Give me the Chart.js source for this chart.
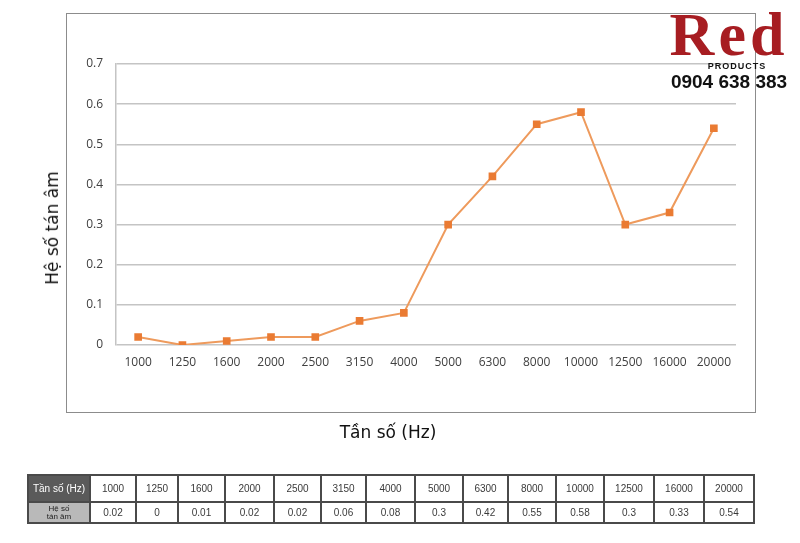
<!DOCTYPE html>
<html>
<head>
<meta charset="utf-8">
<script src="https://cdn.jsdelivr.net/npm/chart.js@4/dist/chart.umd.min.js"></script>
<style>
  html, body { margin:0; padding:0; background:#fff; }
  #wrap { position:relative; width:800px; height:543px; overflow:hidden; font-family:"Liberation Sans", Arial, sans-serif; }
  #box { position:absolute; left:66px; top:13px; width:688px; height:398px; border:1px solid #8c8c8c; }
  #cv { position:absolute; left:0; top:0; }
  .ytitle { position:absolute; left:52px; top:228px; transform:translate(-50%,-50%) rotate(-90deg); font-family:"DejaVu Sans", sans-serif; font-size:17px; color:#111; white-space:nowrap; }
  .xtitle { position:absolute; left:388px; top:432px; transform:translate(-50%,-50%); font-family:"DejaVu Sans", sans-serif; font-size:17px; color:#111; white-space:nowrap; }
  #logo { position:absolute; left:664px; top:0; width:130px; height:95px; text-align:center; }
  #logo .red { position:absolute; left:0; top:3px; width:130px; line-height:62px; font-family:"Liberation Serif", serif; font-weight:bold; font-size:62px; color:#a71d22; letter-spacing:4px; }
  #logo .prod { position:absolute; left:0; top:61px; width:130px; font-weight:bold; font-size:9px; color:#111; letter-spacing:1px; padding-left:16px; box-sizing:border-box; }
  #logo .phone { position:absolute; left:0; top:71px; width:130px; font-weight:bold; font-size:19px; color:#111; }
  table { position:absolute; left:27px; top:474px; border-collapse:collapse; table-layout:fixed; }
  td { border:2px solid #4a4a4a; text-align:center; font-size:10px; color:#3a3a3a; padding:0; }
  tr.r1 td { height:25px; }
  tr.r2 td { height:19px; }
  td.h1 { background:#5a5a5a; color:#fff; font-size:10px; }
  td.h2 { background:#b9b9b9; color:#222; font-size:8px; line-height:8px; }
</style>
</head>
<body>
<div id="wrap">
  <div id="box"></div>
  <canvas id="cv" width="800" height="543"></canvas>
  <div class="ytitle">Hệ số tán âm</div>
  <div class="xtitle">Tần số (Hz)</div>
  <div id="logo">
    <div class="red">Red</div>
    <div class="prod">PRODUCTS</div>
    <div class="phone">0904 638 383</div>
  </div>
  <table id="tbl"></table>
</div>
<script>
const frequencies = ['1000','1250','1600','2000','2500','3150','4000','5000','6300','8000','10000','12500','16000','20000'];
const coefficients = [0.02, 0, 0.01, 0.02, 0.02, 0.06, 0.08, 0.3, 0.42, 0.55, 0.58, 0.3, 0.33, 0.54];
const rowLabels = ['Tần số (Hz)', 'Hệ số<br>tán âm'];
const colWidths = [62,46,42,47,49,47,45,49,48,45,48,48,50,50,50];

// table under the chart
const tbl = document.getElementById('tbl');
let cols = '<colgroup>' + colWidths.map(w=>`<col style="width:${w}px">`).join('') + '</colgroup>';
let r1 = `<tr class="r1"><td class="h1">${rowLabels[0]}</td>` + frequencies.map(f=>`<td>${f}</td>`).join('') + '</tr>';
let r2 = `<tr class="r2"><td class="h2">${rowLabels[1]}</td>` + coefficients.map(v=>`<td>${v}</td>`).join('') + '</tr>';
tbl.innerHTML = cols + r1 + r2;

const tickFont = { family:'"Open Sans", sans-serif', size:12 };
new Chart(document.getElementById('cv').getContext('2d'), {
  type:'line',
  data:{
    labels: frequencies,
    datasets:[{
      data: coefficients,
      borderColor:'#ee9a5c',
      borderWidth:2,
      pointStyle:'rect',
      pointRadius:4,
      pointBackgroundColor:'#ea7b33',
      pointBorderColor:'#ea7b33',
      tension:0
    }]
  },
  options:{
    responsive:false,
    animation:false,
    layout:{ padding:{ top:64, right:64, left:0, bottom:0 } },
    plugins:{ legend:{display:false}, tooltip:{enabled:false} },
    scales:{
      x:{
        offset:true,
        grid:{ display:false, drawTicks:false },
        border:{ display:false },
        ticks:{ color:'#404040', font:tickFont, padding:10, maxRotation:0, autoSkip:false },
        afterFit(s){ s.height = 543 - 345; }
      },
      y:{
        min:0, max:0.7,
        grid:{ color:'#c4c4c4', lineWidth:1.5, drawTicks:false },
        border:{ display:true, color:'#c4c4c4', width:1.5 },
        ticks:{ stepSize:0.1, color:'#404040', font:tickFont, padding:13 },
        afterFit(s){ s.width = 116; }
      }
    }
  }
});
</script>
</body>
</html>
